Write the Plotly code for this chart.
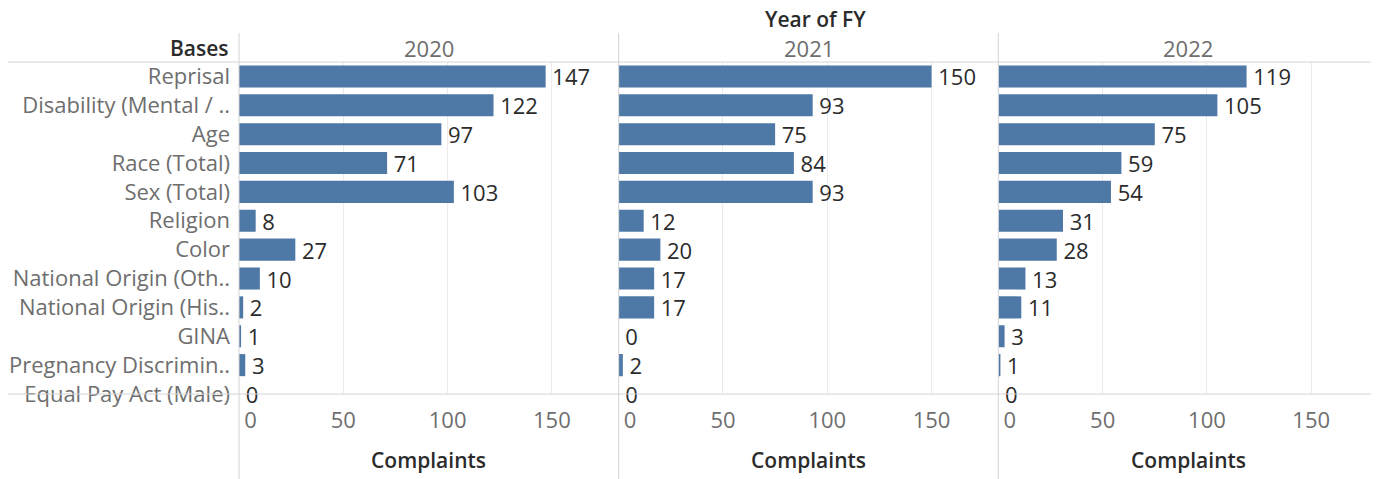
import plotly.graph_objects as go
from plotly.subplots import make_subplots

# ── Data ─────────────────────────────────────────────────────────────────────
BASES = [
    "Reprisal", "Disability (Mental / ..", "Age", "Race (Total)", "Sex (Total)",
    "Religion", "Color", "National Origin (Oth..", "National Origin (His..",
    "GINA", "Pregnancy Discrimin..", "Equal Pay Act (Male)",
]
YEARS = ["2020", "2021", "2022"]
FY2020 = [147, 122, 97, 71, 103, 8, 27, 10, 2, 1, 3, 0]
FY2021 = [150, 93, 75, 84, 93, 12, 20, 17, 17, 0, 2, 0]
FY2022 = [119, 105, 75, 59, 54, 31, 28, 13, 11, 3, 1, 0]
TICKS = [0, 50, 100, 150]
TICK_TEXT = ["\u00a0\u00a0\u00a0\u00a00", "50", "100", "150"]

# ── Style ────────────────────────────────────────────────────────────────────
BAR = "#4e79a7"
LINE = "#d4d4d4"
GRID = "#ebebeb"
DARK = "#2b2b2b"
GRAY = "#6e6e6e"
FONT = "Open Sans"
FS = 22

OFF = 8  # page body margin
W, H = 1379 - OFF, 479 - OFF
L, R, T, B = 231, 1, 54, 85
PW, PH = W - L - R, H - T - B


def px_x(x):
    # page pixel -> paper x
    return (x - OFF - L) / PW


def px_y(y):
    # page pixel -> paper y
    return (H - B - (y - OFF)) / PH


fig = make_subplots(rows=1, cols=3, shared_yaxes=True, horizontal_spacing=0)

for i, vals in enumerate([FY2020, FY2021, FY2022]):
    fig.add_trace(go.Bar(
        x=vals, y=BASES, orientation="h",
        marker=dict(color=BAR, line=dict(width=0)),
        text=vals, texttemplate="\u2009%{text}",
        textposition="outside", cliponaxis=False,
        constraintext="none",
        textfont=dict(family=FONT, size=FS, color=DARK),
        showlegend=False,
    ), row=1, col=i + 1)
    fig.update_xaxes(
        range=[0, 182], tickvals=TICKS, ticktext=TICK_TEXT,
        showgrid=True, gridcolor=GRID, gridwidth=1,
        zeroline=False, showline=False, ticks="",
        ticklabelstandoff=11,
        tickfont=dict(family=FONT, size=FS, color=GRAY),
        row=1, col=i + 1,
    )

fig.update_yaxes(
    type="category", categoryorder="array", categoryarray=BASES,
    range=[11.0, -0.5], showgrid=False, zeroline=False, showline=False,
    ticks="", ticklabelstandoff=8,
    tickfont=dict(family=FONT, size=FS, color=GRAY),
)

shapes = []
# header and axis rules
for yy in (1, 0):
    shapes.append(dict(type="line", xref="paper", yref="paper",
                       x0=px_x(8), x1=1.01, y0=yy, y1=yy,
                       line=dict(color=LINE, width=1)))
# pane dividers
for xx in (0, 1 / 3, 2 / 3):
    shapes.append(dict(type="line", xref="paper", yref="paper",
                       x0=xx, x1=xx, y0=px_y(33), y1=px_y(479),
                       line=dict(color=LINE, width=1)))

annotations = [
    dict(text="Year of FY", x=px_x(815), y=px_y(19), xref="paper", yref="paper",
         showarrow=False, xanchor="center", yanchor="middle",
         font=dict(family=FONT, size=FS - 1, color=DARK, weight=600)),
    dict(text="Bases", x=px_x(231), y=px_y(48), xref="paper", yref="paper",
         showarrow=False, xanchor="right", yanchor="middle",
         font=dict(family=FONT, size=FS - 1, color=DARK, weight=600)),
]
for i, yr in enumerate(YEARS):
    cx = (i + 0.5) / 3
    annotations.append(dict(text=yr, x=cx, y=px_y(48), xref="paper", yref="paper",
                            showarrow=False, xanchor="center", yanchor="middle",
                            font=dict(family=FONT, size=FS, color=GRAY)))
    annotations.append(dict(text="Complaints", x=cx, y=px_y(460), xref="paper",
                            yref="paper", showarrow=False, xanchor="center",
                            yanchor="middle",
                            font=dict(family=FONT, size=FS - 1, color=DARK, weight=600)))

fig.update_layout(
    width=W, height=H,
    margin=dict(l=L, r=R, t=T, b=B),
    paper_bgcolor="white", plot_bgcolor="white",
    bargap=0.235,
    shapes=shapes, annotations=annotations,
    font=dict(family=FONT, color=DARK),
)

fig.write_html("out.html")
